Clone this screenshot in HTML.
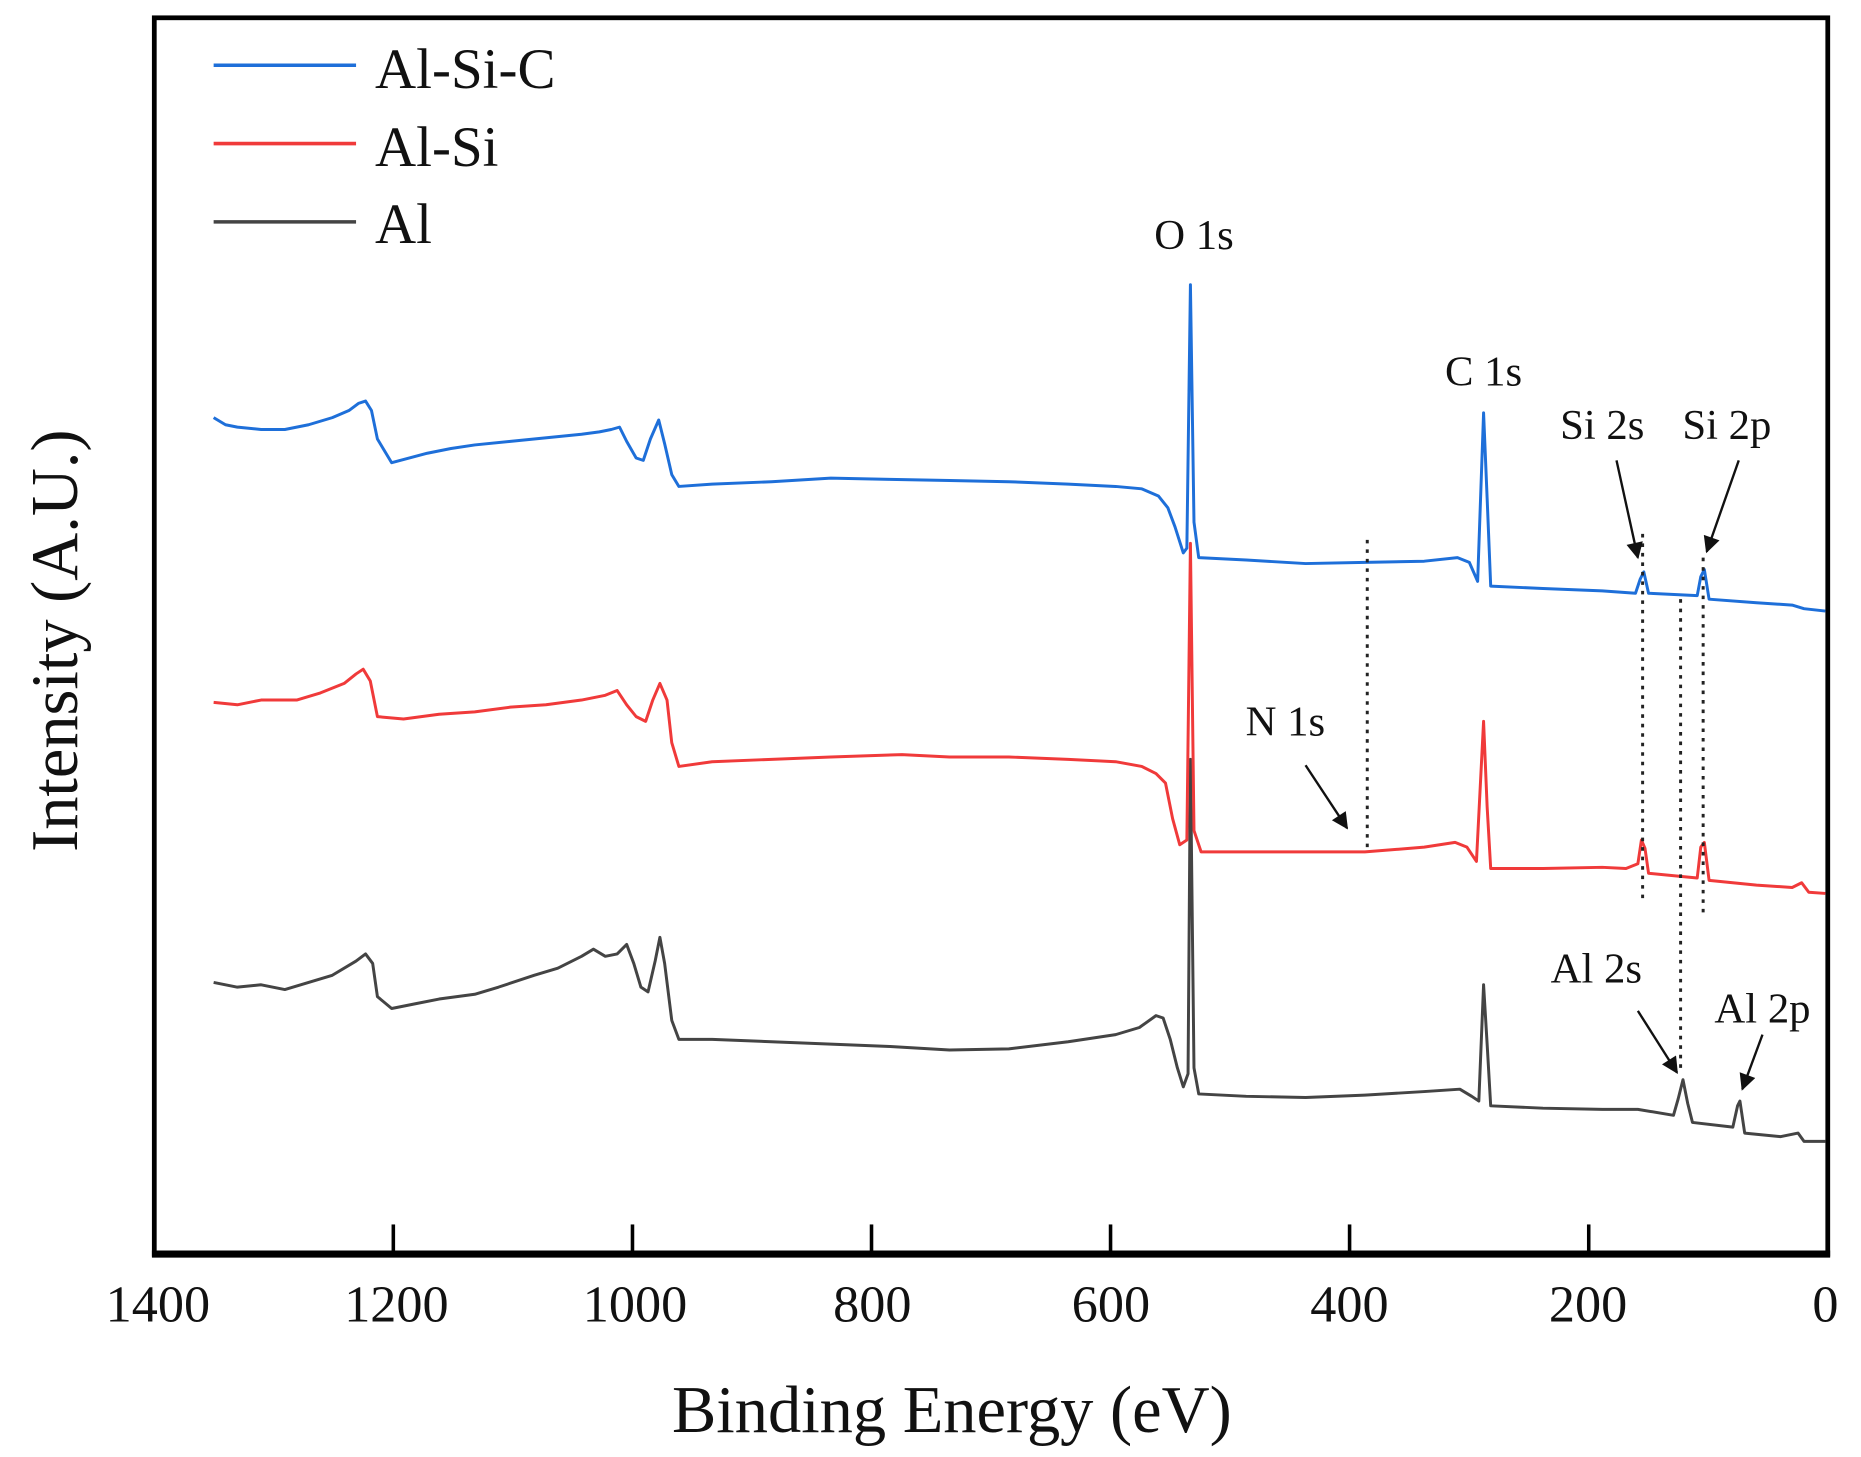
<!DOCTYPE html>
<html><head><meta charset="utf-8"><style>
html,body{margin:0;padding:0;background:#fff;}
svg{display:block;}
text{font-family:"Liberation Serif",serif;fill:#111;}
</style></head><body>
<svg width="1861" height="1457" viewBox="0 0 1568 1228" preserveAspectRatio="none" xmlns="http://www.w3.org/2000/svg">
<rect width="1568" height="1228" fill="#fff"/>
<!-- axes -->
<rect x="130" y="15" width="1410" height="1042" fill="none" stroke="#000" stroke-width="4"/>
<line x1="128" y1="1057" x2="1542" y2="1057" stroke="#000" stroke-width="6"/>
<g stroke="#000" stroke-width="3">
<line x1="331.4" y1="1057" x2="331.4" y2="1032"/>
<line x1="532.9" y1="1057" x2="532.9" y2="1032"/>
<line x1="734.3" y1="1057" x2="734.3" y2="1032"/>
<line x1="935.7" y1="1057" x2="935.7" y2="1032"/>
<line x1="1137.1" y1="1057" x2="1137.1" y2="1032"/>
<line x1="1338.6" y1="1057" x2="1338.6" y2="1032"/>
</g>
<g font-size="44" text-anchor="middle">
<text x="133" y="1114">1400</text>
<text x="334" y="1114">1200</text>
<text x="535" y="1114">1000</text>
<text x="735" y="1114">800</text>
<text x="936" y="1114">600</text>
<text x="1137" y="1114">400</text>
<text x="1338" y="1114">200</text>
<text x="1538" y="1114">0</text>
</g>
<text x="802" y="1207" font-size="56" text-anchor="middle">Binding Energy (eV)</text>
<text transform="translate(65,540) rotate(-90)" font-size="56" text-anchor="middle">Intensity (A.U.)</text>
<!-- legend -->
<line x1="180" y1="55" x2="300" y2="55" stroke="#1e6fd9" stroke-width="3"/>
<line x1="180" y1="121" x2="300" y2="121" stroke="#f03a3a" stroke-width="3"/>
<line x1="180" y1="187" x2="300" y2="187" stroke="#444" stroke-width="3"/>
<g font-size="48">
<text x="316" y="74">Al-Si-C</text>
<text x="316" y="140">Al-Si</text>
<text x="316" y="205">Al</text>
</g>
<!-- series -->
<polyline fill="none" stroke="#444" stroke-width="2.5" stroke-linejoin="round" points="180,828 200,832 220,830 240,834 260,828 280,822 300,810 308,804 314,812 318,840 330,850 350,846 370,842 400,838 420,832 450,822 470,816 490,806 500,800 510,806 520,804 528,796 534,812 540,832 546,836 552,810 556,790 560,812 566,860 572,876 600,876 650,878 700,880 750,882 800,885 850,884 900,878 940,872 960,866 974,856 980,858 986,876 992,900 997,916 1001,905 1003,640 1006,900 1010,922 1050,924 1100,925 1150,923 1200,920 1230,918 1240,924 1246,928 1250,830 1253,880 1256,932 1300,934 1350,935 1380,935 1410,940 1414,926 1418,910 1422,930 1426,946 1460,950 1464,932 1466,928 1470,955 1500,958 1515,955 1520,962 1538,962"/>
<polyline fill="none" stroke="#f03a3a" stroke-width="2.5" stroke-linejoin="round" points="180,592 200,594 220,590 250,590 270,584 290,576 300,568 306,564 312,574 318,604 340,606 370,602 400,600 430,596 460,594 490,590 510,586 520,582 528,594 536,604 544,608 550,590 556,576 562,590 566,626 572,646 600,642 650,640 700,638 760,636 800,638 850,638 900,640 940,642 962,646 974,652 982,660 988,690 994,712 1000,708 1003,458 1006,700 1012,718 1050,718 1100,718 1150,718 1200,714 1226,710 1236,714 1244,726 1250,608 1253,680 1256,732 1300,732 1350,731 1370,732 1380,728 1383,708 1386,715 1389,736 1430,740 1433,714 1436,710 1440,742 1480,746 1510,748 1518,744 1524,752 1538,753"/>
<polyline fill="none" stroke="#1e6fd9" stroke-width="2.5" stroke-linejoin="round" points="180,352 190,358 200,360 220,362 240,362 260,358 280,352 294,346 302,340 308,338 313,346 318,370 330,390 345,386 360,382 380,378 400,375 430,372 450,370 470,368 490,366 505,364 515,362 522,360 528,372 536,386 542,388 548,370 555,354 560,374 566,400 572,410 600,408 650,406 700,403 750,404 800,405 850,406 900,408 940,410 962,412 976,418 984,428 990,444 997,466 1000,462 1003,240 1006,440 1010,470 1050,472 1100,475 1150,474 1200,473 1228,470 1238,474 1245,490 1250,348 1253,420 1256,494 1300,496 1350,498 1378,500 1382,488 1385,482 1389,500 1430,502 1433,486 1436,480 1440,505 1480,508 1510,510 1520,513 1538,515"/>
<!-- dotted lines -->
<g stroke="#222" stroke-width="2.5" stroke-dasharray="3,5">
<line x1="1152" y1="455" x2="1152" y2="715"/>
<line x1="1384" y1="450" x2="1384" y2="760"/>
<line x1="1416" y1="505" x2="1416" y2="900"/>
<line x1="1435" y1="470" x2="1435" y2="770"/>
</g>
<!-- arrows -->
<defs><marker id="ah" markerWidth="10" markerHeight="10" refX="8" refY="5" orient="auto" markerUnits="userSpaceOnUse"><path d="M0,0 L16,5 L0,10 Z" transform="scale(0.6,1)" fill="#111"/></marker>
<marker id="ah2" viewBox="0 0 10 10" markerWidth="16" markerHeight="14" refX="9" refY="5" orient="auto" markerUnits="userSpaceOnUse"><path d="M0,0 L10,5 L0,10 Z" fill="#111"/></marker></defs>
<g stroke="#111" stroke-width="2" marker-end="url(#ah2)">
<line x1="1362" y1="388" x2="1380" y2="470"/>
<line x1="1465" y1="388" x2="1438" y2="465"/>
<line x1="1100" y1="645" x2="1135" y2="698"/>
<line x1="1380" y1="852" x2="1413" y2="904"/>
<line x1="1485" y1="872" x2="1468" y2="918"/>
</g>
<!-- annotations -->
<g font-size="36" text-anchor="middle">
<text x="1006" y="210">O 1s</text>
<text x="1250" y="325">C 1s</text>
<text x="1350" y="370">Si 2s</text>
<text x="1455" y="370">Si 2p</text>
<text x="1083" y="620">N 1s</text>
<text x="1345" y="828">Al 2s</text>
<text x="1485" y="862">Al 2p</text>
</g>
</svg>
</body></html>
